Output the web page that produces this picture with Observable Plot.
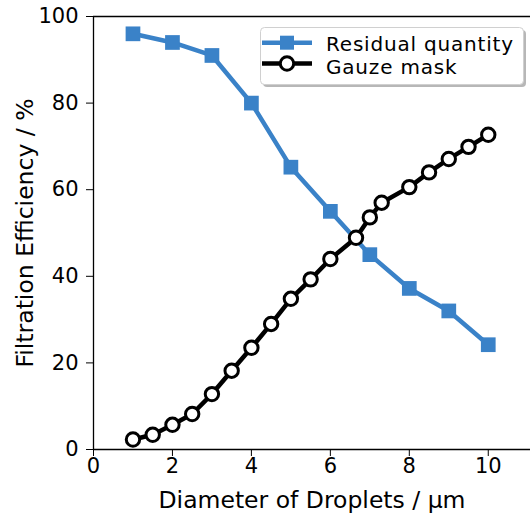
<!DOCTYPE html>
<html><head><meta charset="utf-8">
<script src="https://cdn.jsdelivr.net/npm/d3@7"></script>
<script src="https://cdn.jsdelivr.net/npm/@observablehq/plot@0.6"></script>
<style>
body{margin:0;background:#fff;font-family:"DejaVu Sans",sans-serif;}
#wrap{position:relative;width:530px;height:517px;}
#legend{position:absolute;left:0;top:0;pointer-events:none;}
</style></head>
<body><div id="wrap"></div>
<script>
const residualX = [1,2,3,4,5,6,7,8,9,10];
const residualY = [96,94,91,80,65.2,55,45,37.2,32,24.2];
const gauzeX = [1,1.5,2,2.5,3,3.5,4,4.5,5,5.5,6,6.65,7,7.3,8,8.5,9,9.5,10];
const gauzeY = [2.3,3.4,5.7,8.2,12.8,18.2,23.5,29,34.8,39.3,44,48.9,53.6,57,60.6,64,67.1,69.9,72.7];
const seriesNames = ["Residual quantity","Gauze mask"];
const axisLabels = ["Diameter of Droplets / μm", "Filtration Efficiency / %"];
const xTicks = [0,2,4,6,8,10];
const yTicks = [0,20,40,60,80,100];
const blue = "#3a82c8";

const residual = residualX.map((x,i)=>({x, y: residualY[i]}));
const gauze = gauzeX.map((x,i)=>({x, y: gauzeY[i]}));

const plot = Plot.plot({
  width: 530, height: 517,
  marginLeft: 93, marginRight: 0, marginTop: 16, marginBottom: 68,
  style: {fontFamily: "DejaVu Sans", fontSize: "21px", color: "#000", background: "#fff"},
  x: {domain: [0, 11.07]},
  y: {domain: [0, 100]},
  marks: [
    Plot.axisX({ticks: xTicks, tickSize: 7, tickPadding: 2, fontSize: 21, label: null}),
    Plot.axisY({ticks: yTicks, tickSize: 7, tickPadding: 8, fontSize: 21, label: null}),
    Plot.text([axisLabels[0]], {frameAnchor: "bottom", text: d => d, textAnchor: "middle", dy: 58, fontSize: 23.5, lineAnchor: "bottom"}),
    Plot.text([axisLabels[1]], {frameAnchor: "left", text: d => d, textAnchor: "middle", dx: -61, rotate: -90, fontSize: 23.5, lineAnchor: "bottom"}),
    Plot.ruleX([0], {stroke: "#000", strokeWidth: 1.3}),
    Plot.ruleY([0], {stroke: "#000", strokeWidth: 1.3}),
    Plot.ruleY([100], {stroke: "#000", strokeWidth: 1.3}),
    Plot.line(residual, {x: "x", y: "y", stroke: blue, strokeWidth: 4.5}),
    Plot.dot(residual, {x: "x", y: "y", symbol: "square", r: 8.3, fill: blue, stroke: "none"}),
    Plot.line(gauze, {x: "x", y: "y", stroke: "#000", strokeWidth: 4.5}),
    Plot.dot(gauze, {x: "x", y: "y", r: 6.7, fill: "#fff", stroke: "#000", strokeWidth: 3})
  ]
});
const wrap = document.getElementById("wrap");
wrap.appendChild(plot);

const ns = "http://www.w3.org/2000/svg";
const leg = document.createElementNS(ns, "svg");
leg.setAttribute("id", "legend");
leg.setAttribute("width", 530);
leg.setAttribute("height", 120);
leg.innerHTML = `
<rect x="263" y="30" width="263" height="57" rx="4" fill="#999" opacity="0.7"/>
<rect x="260.5" y="27.5" width="263" height="57" rx="4" fill="#fff" stroke="#d0d0d0" stroke-width="1"/>
<line x1="262" x2="312" y1="42.7" y2="42.7" stroke="${blue}" stroke-width="4.5"/>
<rect x="280" y="35.7" width="14" height="14" fill="${blue}"/>
<line x1="262" x2="312" y1="63.5" y2="63.5" stroke="#000" stroke-width="4.5"/>
<circle cx="287" cy="63.5" r="6.7" fill="#fff" stroke="#000" stroke-width="3"/>
<text x="326" y="50.5" font-family="DejaVu Sans" font-size="20" letter-spacing="0.8" fill="#000">${seriesNames[0]}</text>
<text x="326" y="74" font-family="DejaVu Sans" font-size="20" letter-spacing="0.8" fill="#000">${seriesNames[1]}</text>`;
wrap.appendChild(leg);
</script></body></html>
